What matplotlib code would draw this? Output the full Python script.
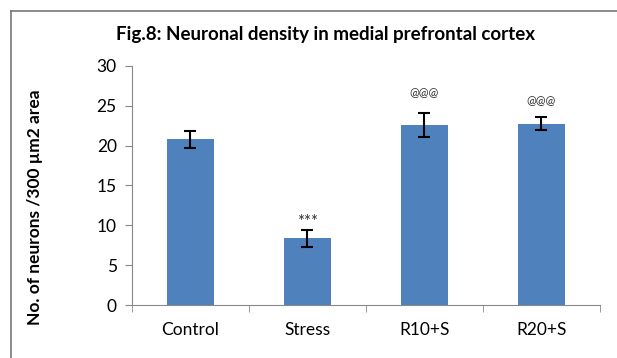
import matplotlib.pyplot as plt
from matplotlib.lines import Line2D

# data
groups = ["Control", "Stress", "R10+S", "R20+S"]
means = [20.8, 8.35, 22.6, 22.75]
sem = [1.05, 1.05, 1.5, 0.8]
marks = ["", "***", "@@@", "@@@"]
mark_y = [0, 10.4, 26.6, 25.6]

plt.rcParams["font.family"] = ["Lato", "DejaVu Sans"]

fig = plt.figure(figsize=(6.17, 3.58), dpi=100)
ax = fig.add_axes([0.214, 0.148, 0.758, 0.668])

x = range(len(groups))
ax.bar(x, means, width=0.40, color="#4F81BD", zorder=2)
ax.errorbar(x, means, yerr=sem, fmt="none", ecolor="black",
            elinewidth=1.5, capsize=4, capthick=1.5, zorder=3)

for i, m in enumerate(marks):
    if m:
        ax.text(i, mark_y[i], m, ha="center", va="center",
                fontsize=12 if m == "***" else 8.5, color="#333333")

ax.set_xlim(-0.5, 3.5)
ax.set_ylim(0, 30)
ax.set_yticks(range(0, 31, 5))
ax.set_xticks(list(x))
ax.set_xticklabels(groups)
ax.set_xticks([i - 0.5 for i in range(len(groups) + 1)], minor=True)
ax.tick_params(axis="x", which="major", length=0, pad=12, labelsize=12.5)
ax.tick_params(axis="x", which="minor", length=5, color="#888888")
ax.tick_params(axis="y", length=5, color="#888888", labelsize=12.5, pad=6)

for s in ["top", "right"]:
    ax.spines[s].set_visible(False)
for s in ["left", "bottom"]:
    ax.spines[s].set_color("#888888")

ax.set_ylabel("No. of neurons /300 \u00b5m2 area", fontsize=12.5,
              fontweight="bold")
ax.yaxis.set_label_coords(-0.19, 0.41)

fig.text(0.527, 0.905, "Fig.8: Neuronal density in medial prefrontal cortex",
         ha="center", va="center", fontsize=13.5, fontweight="bold")

# outer frame of the chart box
fig.add_artist(Line2D([0.018, 0.018], [0, 0.969], color="#777777", lw=1.2))
fig.add_artist(Line2D([0.018, 1], [0.969, 0.969], color="#777777", lw=1.2))

fig.savefig("out.png", dpi=100)
